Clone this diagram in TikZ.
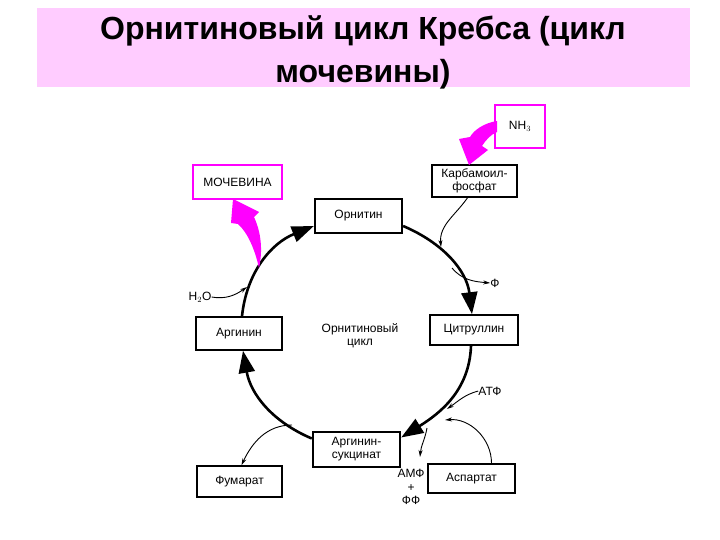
\documentclass[tikz,border=0pt]{standalone}
\usepackage{fontspec}
\setmainfont{Liberation Sans}
\usetikzlibrary{arrows.meta}
\definecolor{pinkbg}{RGB}{255,204,255}
\definecolor{mag}{RGB}{255,0,255}
\begin{document}
\begin{tikzpicture}[x=1pt,y=-1pt,
  box/.style={draw=black,line width=1.6pt,fill=white,inner sep=0pt,align=center,
    font=\fontsize{12}{13}\selectfont},
  pbox/.style={box,draw=mag},
  lbl/.style={inner sep=0pt,align=center,font=\fontsize{12}{13}\selectfont},
  thick arc/.style={line width=2.6pt,-{Triangle[length=22pt,width=16pt]}},
  thin arr/.style={line width=0.9pt,-{Stealth[length=7pt,width=4pt]}},
  magarrow/.style={fill=mag,draw=none}]
\useasboundingbox (0,0) rectangle (720,540);
% title band
\fill[pinkbg] (37,8) rectangle (690,87);
\node[font=\fontsize{32}{43}\selectfont\bfseries,align=center,inner sep=0pt] (title) at (363,52)
  {Орнитиновый цикл Кребса (цикл\\мочевины)};
% boxes
\node[box,minimum width=87pt,minimum height=34pt,line width=2.2pt] (Orn) at (358.5,216) {Орнитин};
\node[box,minimum width=85pt,minimum height=32pt] (Carb) at (474.5,181) {Карбамоил-\\фосфат};
\node[pbox,minimum width=50pt,minimum height=43pt] (NH) at (520,126.5) {NH$_3$};
\node[pbox,minimum width=89pt,minimum height=34pt] (Moch) at (237.5,182) {МОЧЕВИНА};
\node[box,minimum width=86pt,minimum height=33pt] (Arg) at (239,333.5) {Аргинин};
\node[box,minimum width=88pt,minimum height=30pt] (Cit) at (474,330) {Цитруллин};
\node[box,minimum width=87pt,minimum height=35pt,line width=2.4pt] (AS) at (356.5,449.5) {Аргинин-\\сукцинат};
\node[box,minimum width=85pt,minimum height=31pt] (Fum) at (239.5,481.5) {Фумарат};
\node[box,minimum width=87pt,minimum height=29pt] (Asp) at (471.5,478.5) {Аспартат};
% labels
\node[lbl] (cyc) at (360,336) {Орнитиновый\\цикл};
\node[lbl] (H2O) at (200,297) {H$_2$O};
\node[lbl] (F) at (495,283) {Ф};
\node[lbl] (ATF) at (490,391) {АТФ};
\node[lbl,font=\fontsize{12}{13.5}\selectfont] (AMF) at (411,487) {АМФ\\+\\ФФ};
% points on the cycle
\coordinate (k1) at (441,247);
\coordinate (f0) at (452,268);
\coordinate (h1) at (247,287);
\coordinate (a1) at (447,409);
\coordinate (s1) at (445,420);
\coordinate (m0) at (427,428);
\coordinate (m1) at (420,457);
\coordinate (u0) at (292,425);
% cycle arcs
\draw[thick arc] ([xshift=3pt]Arg.north) to[out=84,in=202] ([yshift=-10pt]Orn.west);
\draw[thick arc] ([yshift=-10pt]Orn.east) to[out=-23,in=97] ([xshift=-2pt]Cit.north);
\draw[thick arc] ([xshift=-3pt]Cit.south) to[out=-92,in=32] ([yshift=12pt]AS.east);
\draw[thick arc] ([yshift=11pt]AS.west) to[out=157,in=-80] ([xshift=4pt]Arg.south);
% thin arrows
\draw[thin arr] ([xshift=-7pt]Carb.south) to[out=235,in=95] (k1);
\draw[thin arr] (f0) to[out=-50,in=175] (F.west);
\draw[thin arr] (H2O.east) to[out=-10,in=215] (h1);
\draw[thin arr] (ATF.west) to[out=195,in=35] (a1);
\draw[thin arr] ([xshift=20pt]Asp.north) to[out=90,in=5] (s1);
\draw[thin arr] (m0) to[out=-100,in=85] (m1);
\draw[thin arr] (u0) to[out=180,in=65] ([xshift=2pt]Fum.north);
% magenta arrows
\path[magarrow] (497,121) .. controls (484,123) and (474,130) .. (470,137)
  -- (459,139) -- (469,165) -- (488,150) -- (482,146)
  .. controls (486,140) and (490,135) .. (497,132) -- cycle;
\path[magarrow] (233,199) -- (259,212) -- (254,217)
  .. controls (261,232) and (263,250) .. (259,268)
  .. controls (255,250) and (248,233) .. (238,224)
  -- (231,223) -- cycle;
\end{tikzpicture}
\end{document}
